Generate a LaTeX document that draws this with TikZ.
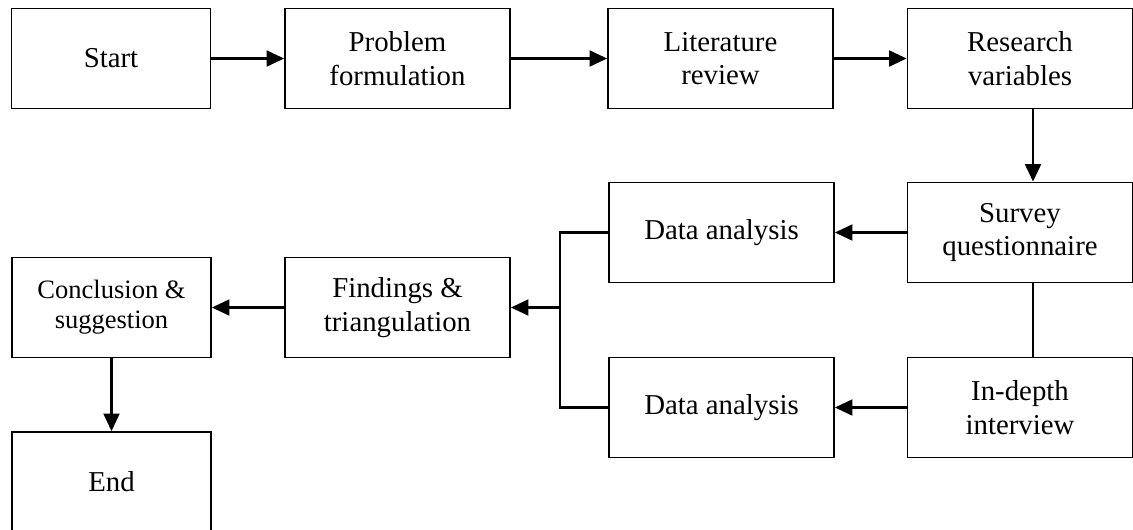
\documentclass[tikz,border=0pt]{standalone}
\usepackage{fontspec}
\setmainfont{Liberation Serif}
\usetikzlibrary{arrows.meta}

\begin{document}
\begin{tikzpicture}[
       x = 0.02cm, y = -0.02cm,
 box/.style = {draw=black, line width=1pt, minimum width=4.5cm, minimum height=2cm,
               inner sep=0pt, align=center, font=\fontsize{16.4}{19}\selectfont},
 nar/.style = {box, minimum width=3.98cm},
 arr/.style = {-{Triangle[length=10pt,width=9pt]}, line width=1.5pt},
  ln/.style = {line width=1.2pt}
                    ]
\useasboundingbox (0,0) rectangle (1133,529);

\node[nar] (start)  at (111,58.5)    {Start};
\node[box] (prob)   at (397.5,58.5)  {Problem\\formulation};
\node[box] (lit)    at (720.5,58.5)  {Literature\\review};
\node[box] (var)    at (1020,58.5)   {Research\\variables};
\node[box] (survey) at (1020,232.5)  {Survey\\questionnaire};
\node[box] (anaA)   at (721.5,232.5) {Data analysis};
\node[box] (interv) at (1020,407.5)  {In-depth\\interview};
\node[box] (anaB)   at (721.5,407.5) {Data analysis};
\node[box] (find)   at (397.5,307.5) {Findings \&\\triangulation};
\node[nar, font=\fontsize{15.1}{17}\selectfont] (concl) at (111.5,307.5) {Conclusion \&\\suggestion};
\node[nar] (end)    at (111.5,482)   {End};

\coordinate (fork) at (560,307.5);

\draw[arr] (start) -- (prob);
\draw[arr] (prob) -- (lit);
\draw[arr] (lit) -- (var);
\draw[arr] ([xshift=0.26cm]var.south) -- ([xshift=0.26cm]survey.north);
\draw[ln]  ([xshift=0.26cm]survey.south) -- ([xshift=0.26cm]interv.north);
\draw[arr] (survey) -- (anaA);
\draw[arr] (interv) -- (anaB);
\draw[ln]  (anaA.west) -| (fork) |- (anaB.west);
\draw[arr] (fork) -- (find);
\draw[arr] (find) -- (concl);
\draw[arr] (concl) -- (end);

\end{tikzpicture}
\end{document}
